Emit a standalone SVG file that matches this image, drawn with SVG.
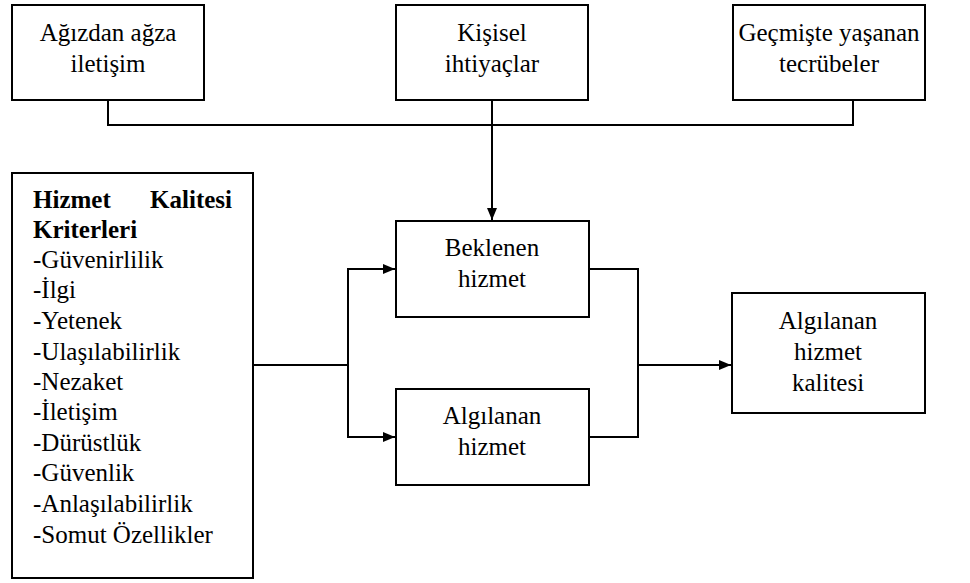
<svg xmlns="http://www.w3.org/2000/svg" width="970" height="583" viewBox="0 0 970 583" font-family="Liberation Serif, Tinos, DejaVu Serif, serif">
<style>
.box{fill:#fff;stroke:#000;stroke-width:2}
.ln{fill:none;stroke:#000;stroke-width:2}
text{font-size:25px;fill:#000}
.c{text-anchor:middle}
.b{font-weight:bold}
</style>
<defs>
<marker id="ah" markerWidth="12" markerHeight="10" refX="12" refY="5" orient="auto" markerUnits="userSpaceOnUse">
<path d="M0,0 L12,5 L0,10 Z" fill="#000"/>
</marker>
</defs>
<rect width="970" height="583" fill="#fff"/>
<g id="connectors">
<polyline class="ln" points="108,100 108,125 853,125 853,100"/>
<line class="ln" x1="492" y1="100" x2="492" y2="220" marker-end="url(#ah)"/>
<line class="ln" x1="253" y1="365" x2="348" y2="365"/>
<line class="ln" x1="348" y1="269" x2="348" y2="437"/>
<line class="ln" x1="347" y1="269" x2="395" y2="269" marker-end="url(#ah)"/>
<line class="ln" x1="347" y1="437" x2="395" y2="437" marker-end="url(#ah)"/>
<polyline class="ln" points="589,269 638,269 638,437 589,437"/>
<line class="ln" x1="638" y1="365" x2="731" y2="365" marker-end="url(#ah)"/>
</g>
<g id="agizdan">
<rect class="box" x="12" y="5" width="192" height="95"/>
<text class="c" x="108" y="41">Ağızdan ağza</text>
<text class="c" x="108" y="72">iletişim</text>
</g>
<g id="kisisel">
<rect class="box" x="396" y="5" width="192" height="95"/>
<text class="c" x="492" y="41">Kişisel</text>
<text class="c" x="492" y="72">ihtiyaçlar</text>
</g>
<g id="gecmiste">
<rect class="box" x="733" y="5" width="192" height="95"/>
<text class="c" x="829" y="41">Geçmişte yaşanan</text>
<text class="c" x="829" y="72">tecrübeler</text>
</g>
<g id="kriterler">
<rect class="box" x="12" y="173" width="241" height="405"/>
<text class="b" x="33" y="208">Hizmet</text>
<text class="b" x="232" y="208" text-anchor="end">Kalitesi</text>
<text class="b" x="33" y="238">Kriterleri</text>
<text x="33" y="268">-Güvenirlilik</text>
<text x="33" y="298">-İlgi</text>
<text x="33" y="329">-Yetenek</text>
<text x="33" y="360">-Ulaşılabilirlik</text>
<text x="33" y="390">-Nezaket</text>
<text x="33" y="420">-İletişim</text>
<text x="33" y="451">-Dürüstlük</text>
<text x="33" y="481">-Güvenlik</text>
<text x="33" y="512">-Anlaşılabilirlik</text>
<text x="33" y="543">-Somut Özellikler</text>
</g>
<g id="beklenen">
<rect class="box" x="396" y="221" width="193" height="96"/>
<text class="c" x="492" y="256">Beklenen</text>
<text class="c" x="492" y="287">hizmet</text>
</g>
<g id="algilanan">
<rect class="box" x="396" y="389" width="193" height="96"/>
<text class="c" x="492" y="424">Algılanan</text>
<text class="c" x="492" y="455">hizmet</text>
</g>
<g id="kalite">
<rect class="box" x="732" y="293" width="193" height="120"/>
<text class="c" x="828" y="329">Algılanan</text>
<text class="c" x="828" y="360">hizmet</text>
<text class="c" x="828" y="391">kalitesi</text>
</g>
</svg>
